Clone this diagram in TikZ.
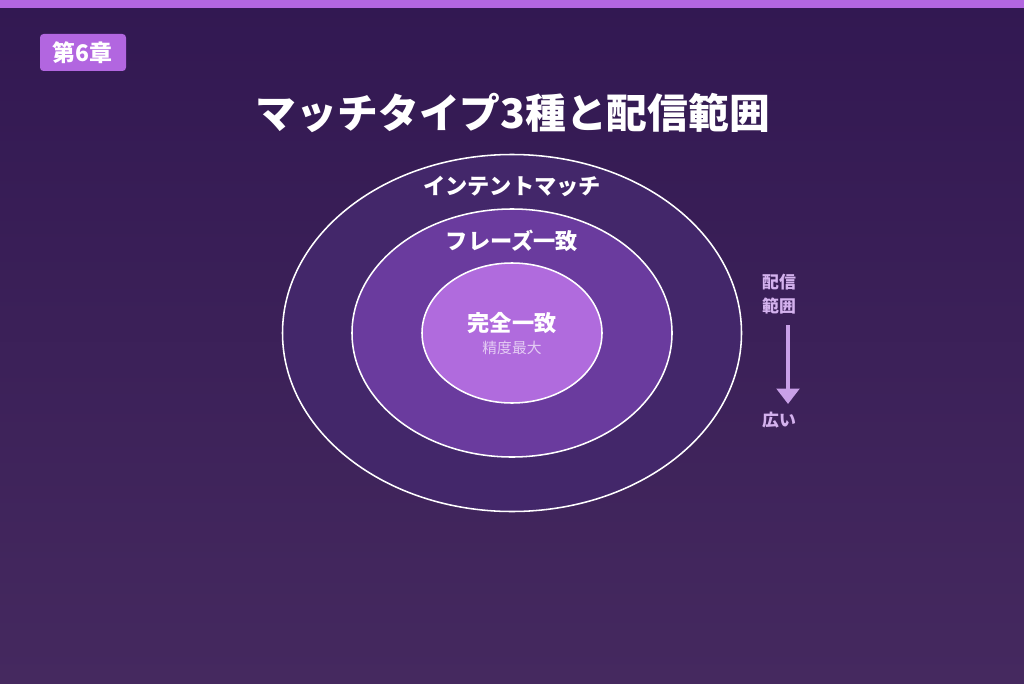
\documentclass[tikz,border=0pt]{standalone}
\usepackage{fontspec}
\setmainfont{Noto Sans CJK JP}
\usetikzlibrary{arrows.meta}
\definecolor{bgtop}{HTML}{321852}
\definecolor{bgbot}{HTML}{45295F}
\definecolor{accent}{HTML}{B266E0}
\definecolor{ringout}{HTML}{43276A}
\definecolor{ringmid}{HTML}{6A3B9E}
\definecolor{ringin}{HTML}{B06BDD}
\definecolor{subtxt}{HTML}{E4CCF4}
\definecolor{sidetxt}{HTML}{D4B2EE}
\definecolor{arrowc}{HTML}{C9A0E8}

\begin{document}
\begin{tikzpicture}[x=0.025cm,y=-0.025cm,
    ring/.style={draw=white,line width=1.1pt},
    lbl/.style={text=white,font=\fontsize{15.8}{16}\selectfont\bfseries,inner sep=0pt},
    side/.style={text=sidetxt,font=\fontsize{12}{17}\selectfont,align=center,inner sep=0pt}]
     % background
     \useasboundingbox (0,0) rectangle (1024,683);
     \shade[top color=bgtop,bottom color=bgbot] (0,0) rectangle (1024,683);
     \fill[accent] (0,0) rectangle (1024,8);
     % badge and title
     \fill[accent,rounded corners=2.5pt] (40,34) rectangle (126,71);
     \node[text=white,font=\fontsize{16.3}{17}\selectfont\bfseries] (badge) at (82.5,52.5) {第6章};
     \node[text=white,font=\fontsize{29}{30}\selectfont\bfseries] (title) at (513,113) {マッチタイプ3種と配信範囲};
     % rings
     \draw[ring,fill=ringout] (512,333) ellipse (229.5 and 178.5);
     \draw[ring,fill=ringmid] (512,333) ellipse (160 and 124);
     \draw[ring,fill=ringin]  (512,333) ellipse (90 and 70);
     \node[lbl] (intent) at (512,186) {インテントマッチ};
     \node[lbl] (phrase) at (512,241) {フレーズ一致};
     \node[lbl] (exact)  at (512,323) {完全一致};
     \node[text=subtxt,font=\fontsize{10.5}{11}\selectfont,inner sep=0pt] (prec) at (512,348) {精度最大};
     % side arrow
     \node[side] (range) at (779,294) {\bfseries 配信\\\bfseries 範囲};
     \node[side] (wide)  at (779,420) {\bfseries 広い};
     \draw[arrowc,line width=3pt,-{Triangle[width=16pt,length=11pt]}] (788,325) -- (788,404);
\end{tikzpicture}
\end{document}
